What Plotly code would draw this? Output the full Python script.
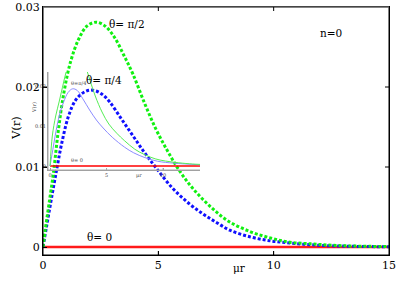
import plotly.graph_objects as go

# ---- main chart data (n=0) ----
green_x = [0, 0.1, 0.25, 0.45, 0.65, 0.9, 1.2, 1.55, 1.9, 2.3, 2.7, 3.1, 3.5, 3.9, 4.4, 4.9, 5.4, 5.9, 6.5, 7.2, 8.0, 9.0, 9.9, 10.7, 11.6, 12.5, 13.5, 15]
green_v = [0, 0.0022, 0.0052, 0.0092, 0.0142, 0.0192, 0.0232, 0.0260, 0.0276, 0.0281, 0.0276, 0.0262, 0.0240, 0.0216, 0.0180, 0.0147, 0.0120, 0.0096, 0.0073, 0.0052, 0.0033, 0.0019, 0.0011, 0.0006, 0.0004, 0.00022, 0.00012, 0.00005]

blue_x = [0, 0.15, 0.35, 0.6, 0.8, 1.1, 1.4, 1.7, 2.0, 2.3, 2.6, 2.9, 3.4, 3.9, 4.4, 4.9, 5.6, 6.3, 6.9, 7.5, 8.1, 9.0, 9.9, 10.7, 11.6, 12.5, 13.5, 15]
blue_v = [0, 0.0025, 0.0058, 0.0098, 0.0128, 0.0163, 0.0183, 0.0192, 0.0196, 0.0195, 0.0190, 0.0181, 0.0160, 0.0139, 0.0118, 0.0099, 0.0074, 0.0055, 0.0042, 0.0031, 0.0021, 0.00125, 0.00075, 0.0005, 0.00028, 0.00015, 0.00008, 0.00003]

red_x = [0, 15]
red_v = [0, 0]

# ---- inset data ----
in_green_x = [0, 0.2, 0.5, 0.8, 1.1, 1.4, 1.8, 2.2, 2.7, 3.3, 4.0, 4.6, 5.2, 5.9, 6.6, 7.5, 8.4, 9.3, 10.2, 11.4, 12.6, 13.3]
in_green_v = [0, 0.0075, 0.0125, 0.0160, 0.0197, 0.0233, 0.0270, 0.0290, 0.0285, 0.0235, 0.0175, 0.0135, 0.0105, 0.0082, 0.0063, 0.0042, 0.0028, 0.0018, 0.00125, 0.0008, 0.0005, 0.0004]

in_blue_x = [0, 0.3, 0.6, 0.9, 1.2, 1.6, 2.0, 2.4, 2.9, 3.5, 4.1, 4.7, 5.5, 6.6, 7.4, 8.4, 9.5, 11.0, 13.3]
in_blue_v = [0, 0.0050, 0.0098, 0.0135, 0.0160, 0.0184, 0.0193, 0.0189, 0.0168, 0.0140, 0.0115, 0.0095, 0.0072, 0.0047, 0.0033, 0.0021, 0.0012, 0.0007, 0.0003]

in_red_x = [0, 13.3]
in_red_v = [0, 0]

main_xticks = [0, 5, 10, 15]
main_yticks = [0, 0.01, 0.02, 0.03]
main_yticktext = ["0", "0.01", "0.02", "0.03"]
in_xticks = [0, 5, 10]
in_yticks = [0, 0.01, 0.02]
in_yticktext = ["0", "0.01", "0.02"]

FONT = "DejaVu Serif"

# geometry helpers (plot area 346 x 248 px)
PW, PH = 346.0, 248.0
IN_X = [0.0145, 0.4538]
IN_Y = [0.3427, 0.7379]

fig = go.Figure()

# inset traces (thin)
fig.add_trace(go.Scatter(x=in_red_x, y=in_red_v, mode="lines", xaxis="x2", yaxis="y2",
                         line=dict(color="#ff0000", width=1.5)))
fig.add_trace(go.Scatter(x=in_blue_x, y=in_blue_v, mode="lines", xaxis="x2", yaxis="y2",
                         line=dict(color="#8c8cff", width=1, shape="spline")))
fig.add_trace(go.Scatter(x=in_green_x, y=in_green_v, mode="lines", xaxis="x2", yaxis="y2",
                         line=dict(color="#55ee55", width=1, shape="spline")))

# main traces
fig.add_trace(go.Scatter(x=red_x, y=red_v, mode="lines",
                         line=dict(color="#ff1a1a", width=2.5)))
fig.add_trace(go.Scatter(x=blue_x, y=blue_v, mode="lines",
                         line=dict(color="#1010ff", width=3, dash="3px,2px", shape="spline")))
fig.add_trace(go.Scatter(x=green_x, y=green_v, mode="lines",
                         line=dict(color="#10f010", width=3, dash="3px,2px", shape="spline")))

axis_common = dict(showgrid=False, zeroline=False, showline=True, linecolor="black", linewidth=1,
                   ticks="inside", ticklen=4, tickcolor="black", mirror=True,
                   automargin=False,
                   tickfont=dict(family=FONT, size=11, color="black"))

fig.update_layout(
    width=399, height=282,
    margin=dict(l=43, r=10, t=7, b=27, autoexpand=False),
    paper_bgcolor="white", plot_bgcolor="rgba(0,0,0,0)",
    font=dict(family=FONT),
    showlegend=False,
    xaxis=dict(range=[0, 15], tickvals=main_xticks, domain=[0, 1], **axis_common),
    yaxis=dict(range=[-0.001, 0.03], tickvals=main_yticks, ticktext=main_yticktext,
               domain=[0, 1], **axis_common),
    xaxis2=dict(domain=IN_X, anchor="y2", range=[-0.18, 13.27],
                tickvals=in_xticks, showgrid=False, zeroline=False, showline=True,
                linecolor="#999999", linewidth=1, ticks="inside", ticklen=2, tickcolor="#999999",
                automargin=False,
                tickfont=dict(family=FONT, size=5, color="#444444")),
    yaxis2=dict(domain=IN_Y, anchor="x2", range=[-0.001, 0.0235],
                tickvals=in_yticks, ticktext=in_yticktext, showgrid=False, zeroline=False,
                showline=True, linecolor="#999999", linewidth=1, ticks="",
                automargin=False,
                tickfont=dict(family=FONT, size=5, color="#444444")),
)

# frame and ticks as shapes
fig.add_shape(type="rect", xref="paper", yref="paper", x0=0, y0=0, x1=1, y1=1,
              line=dict(color="black", width=1), layer="above")
fig.add_shape(type="line", xref="paper", yref="paper", x0=0, y0=1, x1=1, y1=1,
              line=dict(color="#8a8a8a", width=1.2), layer="above")
for t in main_xticks[1:-1]:
    fig.add_shape(type="line", xref="x", yref="paper", x0=t, x1=t, y0=0, y1=4 / PH,
                  line=dict(color="black", width=1), layer="above")
    fig.add_shape(type="line", xref="x", yref="paper", x0=t, x1=t, y0=1, y1=1 - 4 / PH,
                  line=dict(color="black", width=1), layer="above")
for t in main_yticks[1:-1]:
    fig.add_shape(type="line", xref="paper", yref="y", x0=0, x1=4 / PW, y0=t, y1=t,
                  line=dict(color="black", width=1), layer="above")
    fig.add_shape(type="line", xref="paper", yref="y", x0=1, x1=1 - 4 / PW, y0=t, y1=t,
                  line=dict(color="black", width=1), layer="above")
# inset axis lines
fig.add_shape(type="line", xref="paper", yref="paper", x0=IN_X[0], x1=IN_X[0], y0=IN_Y[0], y1=IN_Y[1],
              line=dict(color="#aaaaaa", width=1), layer="above")
fig.add_shape(type="line", xref="paper", yref="paper", x0=IN_X[0], x1=IN_X[1], y0=IN_Y[0], y1=IN_Y[0],
              line=dict(color="#aaaaaa", width=1), layer="above")
for t in in_xticks[1:]:
    fig.add_shape(type="line", xref="x2", yref="paper", x0=t, x1=t, y0=IN_Y[0], y1=IN_Y[0] + 2 / PH,
                  line=dict(color="#aaaaaa", width=1), layer="above")

ann_font = dict(family=FONT, size=10.5, color="black")
small_font = dict(family=FONT, size=5, color="#444444")
annotations = [
    dict(x=3.65, y=0.0279, xref="x", yref="y", text="θ= π/2", showarrow=False, font=ann_font),
    dict(x=2.65, y=0.0209, xref="x", yref="y", text="θ= π/4", showarrow=False, font=ann_font),
    dict(x=2.43, y=0.00125, xref="x", yref="y", text="θ= 0", showarrow=False, font=ann_font),
    dict(x=12.48, y=0.0268, xref="x", yref="y", text="n=0", showarrow=False, font=ann_font),
    dict(x=0.569, y=-0.0847, xref="paper", yref="paper", text="μr", showarrow=False, font=ann_font),
    dict(x=-0.104, y=0.512, xref="paper", yref="paper", text="V(r)", textangle=-90,
         showarrow=False, font=dict(family=FONT, size=11.5, color="black")),
    dict(x=2.48, y=0.0208, xref="x2", yref="y2", text="θ=π/4", showarrow=False, font=small_font),
    dict(x=2.39, y=0.0015, xref="x2", yref="y2", text="θ= 0", showarrow=False, font=small_font),
    dict(x=(134 - 43) / PW, y=(255 - 181) / PH, xref="paper", yref="paper", text="μr",
         showarrow=False, font=small_font),
    dict(x=(29 - 43) / PW, y=(255 - 108) / PH, xref="paper", yref="paper", text="V(r)",
         textangle=-90, showarrow=False, font=small_font),
]
fig.update_layout(annotations=annotations)

fig.write_html("out.html", config={"displayModeBar": False},
               post_script="document.body.style.margin='0';document.body.style.padding='0';")
